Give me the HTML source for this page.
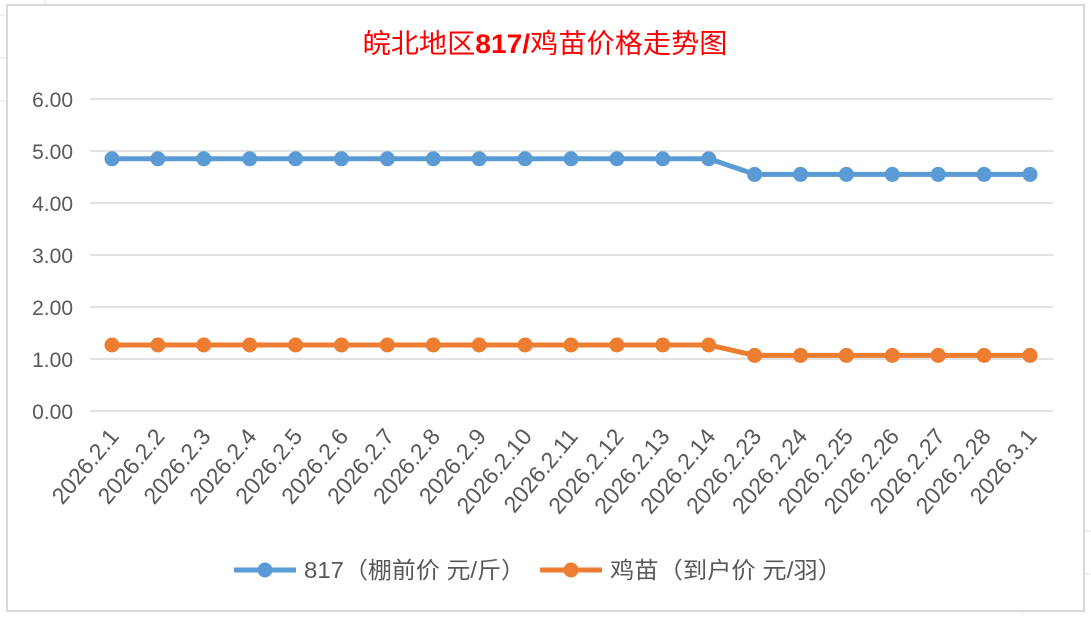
<!DOCTYPE html>
<html><head><meta charset="utf-8"><style>
body{margin:0;width:1091px;height:615px;overflow:hidden;background:#fff}
</style></head><body>
<svg width="1091" height="615" xmlns="http://www.w3.org/2000/svg" font-family="Liberation Sans, Noto Sans CJK SC, sans-serif">
<g stroke="#e3e3e3" stroke-width="1">
<line x1="0" y1="15" x2="6" y2="15"/><line x1="0" y1="58" x2="6" y2="58"/><line x1="0" y1="101" x2="6" y2="101"/>
<line x1="45" y1="0" x2="45" y2="5"/><line x1="1085" y1="531" x2="1091" y2="531"/><line x1="1085" y1="574" x2="1091" y2="574"/><line x1="1022" y1="611" x2="1022" y2="615"/>
</g>
<rect x="7" y="5" width="1077" height="606" fill="#fff" stroke="#d9d9d9" stroke-width="2"/>
<text x="545" y="53" text-anchor="middle" font-size="27" fill="#ff0000" font-family="Liberation Sans, Noto Sans CJK SC, sans-serif" textLength="365" lengthAdjust="spacingAndGlyphs">皖北地区<tspan font-weight="bold">817/</tspan>鸡苗价格走势图</text>
<g stroke="#d9d9d9" stroke-width="1.5">
<line x1="90" y1="99" x2="1053" y2="99"/><line x1="90" y1="151" x2="1053" y2="151"/><line x1="90" y1="203" x2="1053" y2="203"/><line x1="90" y1="255" x2="1053" y2="255"/><line x1="90" y1="307" x2="1053" y2="307"/><line x1="90" y1="359" x2="1053" y2="359"/><line x1="90" y1="411" x2="1053" y2="411"/>
</g>
<g font-size="21" fill="#595959" text-anchor="end">
<text x="73" y="107">6.00</text><text x="73" y="159">5.00</text><text x="73" y="211">4.00</text><text x="73" y="263">3.00</text><text x="73" y="315">2.00</text><text x="73" y="367">1.00</text><text x="73" y="419">0.00</text>
</g>
<g font-size="23" fill="#595959" text-anchor="end" id="xl"></g>
<polyline fill="none" stroke="#5b9bd5" stroke-width="5" stroke-linejoin="round" points="112,158.8 158,158.8 204,158.8 250,158.8 296,158.8 342,158.8 387,158.8 433,158.8 479,158.8 525,158.8 571,158.8 617,158.8 663,158.8 709,158.8 755,174.4 800,174.4 846,174.4 892,174.4 938,174.4 984,174.4 1030,174.4"/>
<polyline fill="none" stroke="#ed7d31" stroke-width="5" stroke-linejoin="round" points="112,345 158,345 204,345 250,345 296,345 342,345 387,345 433,345 479,345 525,345 571,345 617,345 663,345 709,345 755,355.4 800,355.4 846,355.4 892,355.4 938,355.4 984,355.4 1030,355.4"/>
<g id="dots"></g>
<line x1="234" y1="570" x2="296" y2="570" stroke="#5b9bd5" stroke-width="5"/><circle cx="265" cy="570" r="7.5" fill="#5b9bd5"/>
<text x="304" y="578" font-size="23" fill="#595959" textLength="221" lengthAdjust="spacingAndGlyphs">817（棚前价 元/斤）</text>
<line x1="540" y1="570" x2="602" y2="570" stroke="#ed7d31" stroke-width="5"/><circle cx="571" cy="570" r="7.5" fill="#ed7d31"/>
<text x="610" y="578" font-size="23" fill="#595959" textLength="232" lengthAdjust="spacingAndGlyphs">鸡苗（到户价 元/羽）</text>
<script>
var labs=["2026.2.1","2026.2.2","2026.2.3","2026.2.4","2026.2.5","2026.2.6","2026.2.7","2026.2.8","2026.2.9","2026.2.10","2026.2.11","2026.2.12","2026.2.13","2026.2.14","2026.2.23","2026.2.24","2026.2.25","2026.2.26","2026.2.27","2026.2.28","2026.3.1"];
var ns="http://www.w3.org/2000/svg",g=document.getElementById("xl"),d=document.getElementById("dots");
labs.forEach(function(l,i){var x=112+i*45.9;
var t=document.createElementNS(ns,"text");t.setAttribute("transform","translate("+(x+8)+",437) rotate(-50)");t.textContent=l;g.appendChild(t);
[[i<14?158.8:174.4,"#5b9bd5"],[i<14?345:355.4,"#ed7d31"]].forEach(function(p){var c=document.createElementNS(ns,"circle");c.setAttribute("cx",x);c.setAttribute("cy",p[0]);c.setAttribute("r",7.5);c.setAttribute("fill",p[1]);d.appendChild(c);});});
</script>
</svg>
</body></html>
